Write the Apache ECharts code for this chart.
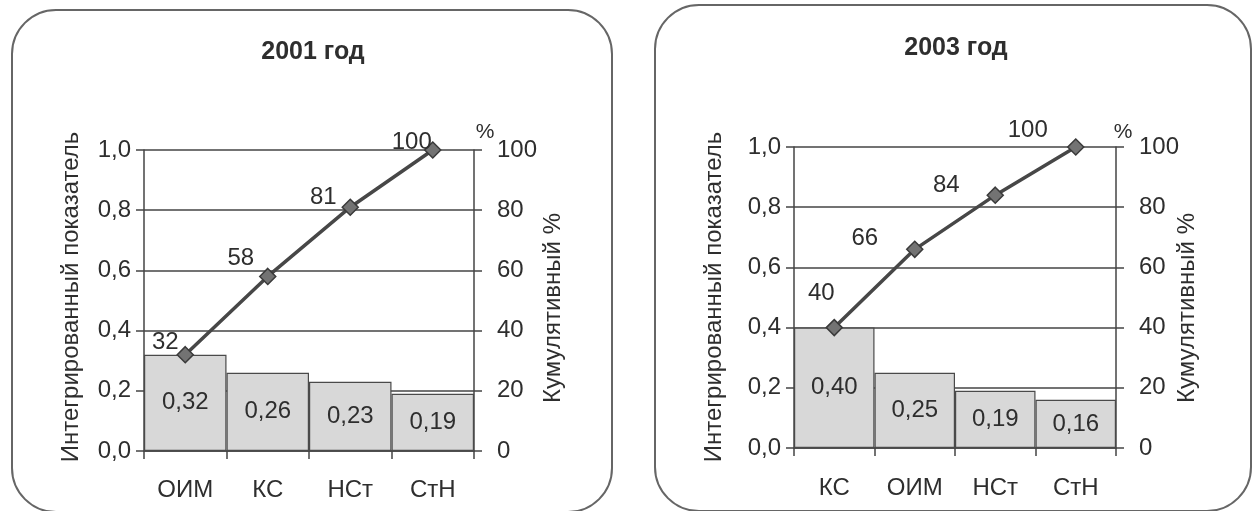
<!DOCTYPE html>
<html>
<head>
<meta charset="utf-8">
<script src="https://cdn.jsdelivr.net/npm/echarts@6/dist/echarts.min.js"></script>
<style>
html,body{margin:0;padding:0;background:#fff;}
#chart{width:1254px;height:511px;}
</style>
</head>
<body>
<div id="chart"></div>
<script>
// ---- data ----
const titles = ['2001 год', '2003 год'];
const categories2001 = ['ОИМ', 'КС', 'НСт', 'СтН'];
const values2001 = [0.32, 0.26, 0.23, 0.19];
const cumulative2001 = [32, 58, 81, 100];
const categories2003 = ['КС', 'ОИМ', 'НСт', 'СтН'];
const values2003 = [0.40, 0.25, 0.19, 0.16];
const cumulative2003 = [40, 66, 84, 100];
const leftAxisName = 'Интегрированный показатель';
const rightAxisName = 'Кумулятивный %';
const percentSign = '%';

// ---- styling ----
const FONT = "'Liberation Sans', Arial, sans-serif";
const TXT = '#2e2e2e';
const LINE = '#444';
const FS = 24;

const lineLabelOffsets = [
  [[-20, 8], [-27, 3], [-27, 11], [-21, 13]],
  [[-13, -13], [-50, 10], [-49, 11], [-48, 4]]
];

const grids = [
  {left: 144, right: 780, top: 150, bottom: 60},
  {left: 794, right: 138, top: 147, bottom: 63}
];

const comma = (v, d) => Number(v).toFixed(d).replace('.', ',');

function xAxis(gi, cats, margin) {
  return {
    type: 'category', gridIndex: gi, data: cats, boundaryGap: true,
    axisLine: {lineStyle: {color: LINE, width: 1.5}},
    axisTick: {show: true, alignWithLabel: false, length: 8, lineStyle: {color: LINE, width: 1.5}},
    axisLabel: {margin: margin, color: TXT, fontSize: FS, fontFamily: FONT}
  };
}
function yLeft(gi) {
  return {
    type: 'value', gridIndex: gi, min: 0, max: 1, interval: 0.2, position: 'left',
    axisLine: {show: true, lineStyle: {color: LINE, width: 1.5}},
    axisTick: {show: true, length: 8, lineStyle: {color: LINE, width: 1.5}},
    splitLine: {show: true, lineStyle: {color: LINE, width: 1.5}},
    axisLabel: {margin: 13, color: TXT, fontSize: FS, fontFamily: FONT, formatter: v => comma(v, 1)}
  };
}
function yRight(gi) {
  return {
    type: 'value', gridIndex: gi, min: 0, max: 100, interval: 20, position: 'right',
    axisLine: {show: true, lineStyle: {color: LINE, width: 1.5}},
    axisTick: {show: true, length: 8, lineStyle: {color: LINE, width: 1.5}},
    splitLine: {show: false},
    axisLabel: {margin: 23, color: TXT, fontSize: FS, fontFamily: FONT}
  };
}
function barSeries(gi, vals) {
  return {
    type: 'bar', xAxisIndex: gi, yAxisIndex: gi * 2, data: vals,
    barCategoryGap: '0%',
    itemStyle: {color: '#d8d8d8', borderColor: '#4a4a4a', borderWidth: 1.2},
    label: {show: true, position: 'inside', color: TXT, fontSize: FS, fontFamily: FONT,
      formatter: p => comma(p.value, 2)},
    z: 2
  };
}
function lineSeries(gi, vals) {
  return {
    type: 'line', xAxisIndex: gi, yAxisIndex: gi * 2 + 1,
    data: vals.map((v, i) => ({value: v, label: {offset: lineLabelOffsets[gi][i]}})),
    symbol: 'diamond', symbolSize: 16,
    lineStyle: {color: '#474747', width: 3.5},
    itemStyle: {color: '#737373', borderColor: '#3a3a3a', borderWidth: 1.5},
    label: {show: true, position: 'top', distance: 0, color: TXT, fontSize: FS, fontFamily: FONT},
    z: 5
  };
}

function vtext(x, y, text) {
  return {type: 'text', x: x, y: y, rotation: Math.PI / 2, z: 10,
    style: {text: text, fill: TXT, font: FS + 'px ' + FONT, textAlign: 'center', textVerticalAlign: 'middle'}};
}
function htext(x, y, text, size, bold) {
  return {type: 'text', x: x, y: y, z: 10,
    style: {text: text, fill: TXT, font: (bold ? 'bold ' : '') + size + 'px ' + FONT, textAlign: 'center', textVerticalAlign: 'middle'}};
}
function frame(x, y, w, h) {
  return {type: 'rect', shape: {x: x, y: y, width: w, height: h, r: 44}, z: 0,
    style: {fill: null, stroke: '#666', lineWidth: 2}};
}

const option = {
  backgroundColor: '#fff',
  animation: false,
  grid: grids,
  xAxis: [xAxis(0, categories2001, 27), xAxis(1, categories2003, 28)],
  yAxis: [yLeft(0), yRight(0), yLeft(1), yRight(1)],
  series: [
    barSeries(0, values2001), lineSeries(0, cumulative2001),
    barSeries(1, values2003), lineSeries(1, cumulative2003)
  ],
  graphic: [
    frame(12, 10, 600, 502),
    frame(655, 5, 596, 506),
    htext(313, 52, titles[0], 25, true),
    htext(956, 48, titles[1], 25, true),
    vtext(71, 297, leftAxisName),
    vtext(714, 297, leftAxisName),
    vtext(553, 308, rightAxisName),
    vtext(1187, 308, rightAxisName),
    htext(485, 132, percentSign, 21, false),
    htext(1123, 132, percentSign, 21, false)
  ]
};

const chart = echarts.init(document.getElementById('chart'));
chart.setOption(option);
</script>
</body>
</html>
